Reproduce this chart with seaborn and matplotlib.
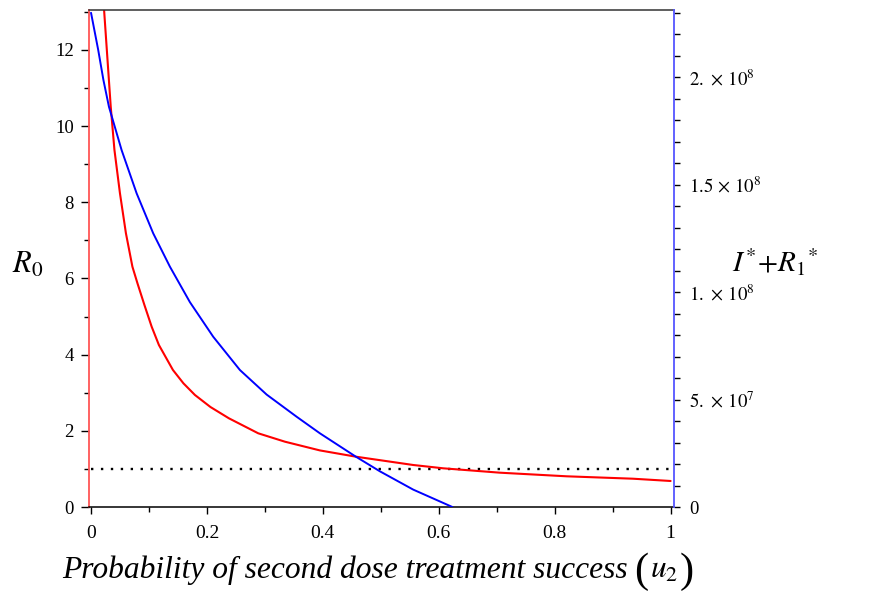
import numpy as np
import pandas as pd
import seaborn as sns
import matplotlib
matplotlib.use("Agg")
import matplotlib.pyplot as plt
from matplotlib.ticker import MultipleLocator, FixedLocator, FixedFormatter

# ---- data ----
u_r0 = [0.0223, 0.0340, 0.0404, 0.0499, 0.0602, 0.0714, 0.0801, 0.0921, 0.1046,
        0.1171, 0.1413, 0.1594, 0.1793, 0.2060, 0.2379, 0.2885, 0.3345, 0.3948,
        0.4570, 0.5559, 0.6077, 0.7055, 0.8206, 0.9350, 1.0]
r0_vals = [13.10, 10.51, 9.375, 8.238, 7.188, 6.310, 5.875, 5.305, 4.735, 4.254,
           3.598, 3.248, 2.941, 2.626, 2.329, 1.935, 1.715, 1.486, 1.321, 1.103,
           1.016, 0.901, 0.806, 0.743, 0.683]

u_inf = [0.0, 0.0124, 0.0214, 0.0309, 0.0528, 0.0787, 0.1073, 0.1361, 0.1706,
         0.2108, 0.2569, 0.3030, 0.3547, 0.3949, 0.4570, 0.4984, 0.5559, 0.6235]
inf_vals = [2.299e8, 2.126e8, 1.986e8, 1.862e8, 1.660e8, 1.459e8, 1.273e8, 1.118e8,
            9.53e7, 7.921e7, 6.372e7, 5.23e7, 4.200e7, 3.428e7, 2.340e7, 1.660e7,
            8.09e6, 0.0]

threshold_u = [0.0, 1.0]
threshold_r0 = [1.0, 1.0]

x_ticks = [0, 0.2, 0.4, 0.6, 0.8, 1.0]
x_ticklabels = ["0", "0.2", "0.4", "0.6", "0.8", "1"]
left_ticks = [0, 2, 4, 6, 8, 10, 12]
right_ticks = [0, 5e7, 1e8, 1.5e8, 2e8]
right_ticklabels = ["0", r"$5.\,\times\,10^{7}$", r"$1.\,\times\,10^{8}$",
                    r"$1.5\,\times\,10^{8}$", r"$2.\,\times\,10^{8}$"]

# ---- style ----
sns.set_style("ticks")
plt.rcParams["font.family"] = ["Liberation Serif", "DejaVu Serif"]
plt.rcParams["mathtext.fontset"] = "stix"
plt.rcParams["text.color"] = "black"
plt.rcParams["xtick.labelcolor"] = "black"
plt.rcParams["ytick.labelcolor"] = "black"

fig = plt.figure(figsize=(8.75, 5.95), dpi=100)
ax = fig.add_axes([89 / 875, 1 - 507 / 595, (673.5 - 89) / 875, (507 - 10) / 595])
ax2 = ax.twinx()

df_r0 = pd.DataFrame({"u": u_r0, "R0": r0_vals})
df_inf = pd.DataFrame({"u": u_inf, "IR": inf_vals})
df_thr = pd.DataFrame({"u": threshold_u, "R0": threshold_r0})

sns.lineplot(data=df_thr, x="u", y="R0", ax=ax, color="black", lw=1.7,
             linestyle=(0, (1, 3.2)), legend=False)
sns.lineplot(data=df_r0, x="u", y="R0", ax=ax, color="#ff0000", lw=1.5, legend=False)
sns.lineplot(data=df_inf, x="u", y="IR", ax=ax2, color="#0000ff", lw=1.4, legend=False)
for line in ax.get_lines() + ax2.get_lines():
    line.set_solid_joinstyle("round")

ax.set_xlim(-0.0035, 1.005)
ax.set_ylim(0, 13.05)
ax2.set_ylim(0, 2.312e8)

ax.set_xlabel("")
ax.set_ylabel("")
ax2.set_ylabel("")

# spines
for sp in ["left", "right", "top", "bottom"]:
    ax.spines[sp].set_visible(True)
    ax2.spines[sp].set_visible(False)
ax.spines["right"].set_visible(False)
ax2.spines["right"].set_visible(True)
ax.spines["left"].set_color("#ff5555")
ax.spines["left"].set_linewidth(1.3)
ax2.spines["right"].set_color("#5555ff")
ax2.spines["right"].set_linewidth(1.3)
ax.spines["top"].set_color("#333333")
ax.spines["top"].set_linewidth(1.1)
ax.spines["bottom"].set_color("black")
ax.spines["bottom"].set_linewidth(1.1)

# ticks
ax.xaxis.set_major_locator(FixedLocator(x_ticks))
ax.xaxis.set_major_formatter(FixedFormatter(x_ticklabels))
ax.xaxis.set_minor_locator(MultipleLocator(0.1))
ax.yaxis.set_major_locator(FixedLocator(left_ticks))
ax.yaxis.set_minor_locator(MultipleLocator(1))
ax2.yaxis.set_major_locator(FixedLocator(right_ticks))
ax2.yaxis.set_major_formatter(FixedFormatter(right_ticklabels))
ax2.yaxis.set_minor_locator(MultipleLocator(1e7))

ax.tick_params(axis="x", which="major", direction="out", length=5, width=1,
               labelsize=14, pad=8, color="black", labelcolor="black", top=False)
ax.tick_params(axis="x", which="minor", direction="out", length=3.5, width=1,
               color="black", top=False)
ax.tick_params(axis="y", which="major", direction="out", length=6, width=1,
               labelsize=13.5, pad=5, color="black", labelcolor="black", right=False)
ax.tick_params(axis="y", which="minor", direction="out", length=3.5, width=1,
               color="black", right=False)
ax2.tick_params(axis="y", which="major", direction="out", length=4, width=1,
                labelsize=13.5, pad=7, color="black", labelcolor="black", left=False)
ax2.tick_params(axis="y", which="minor", direction="out", length=4, width=1,
                color="black", left=False)

# axis titles
fig.text(28 / 875, 1 - 265 / 595, r"$R_0$", fontsize=22, ha="center", va="center")
fig.text(775 / 875, 1 - 262 / 595, r"$I^{*}\!+\!R_{\mathit{1}}{}^{*}$", fontsize=21,
         ha="center", va="center")

# x label built from pieces so the parentheses can be taller
renderer = fig.canvas.get_renderer()
y_lab = 1 - 567 / 595
x_cur = 62 / 875
pieces = [
    ("Probability of second dose treatment success", dict(fontsize=22.7, style="italic"), 0.0),
    ("(", dict(fontsize=30.5), 6.0),
    (r"$u_2$", dict(fontsize=22.7), 2.0),
    (")", dict(fontsize=30.5), 2.0),
]
for txt, kw, gap in pieces:
    x_cur += gap / 875
    t = fig.text(x_cur, y_lab, txt, ha="left", va="center_baseline", **kw)
    bb = t.get_window_extent(renderer=renderer)
    x_cur += bb.width / 875

fig.savefig("out.png", dpi=100)
